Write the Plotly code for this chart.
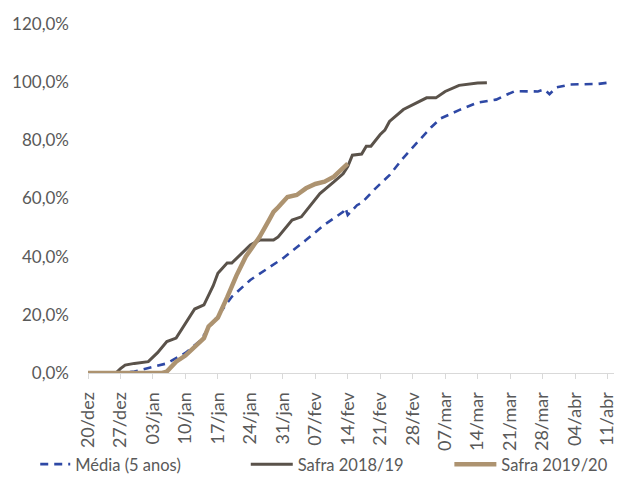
import plotly.graph_objects as go

# ---- data ----
media_dates = ["2018-12-20", "2018-12-27", "2018-12-30", "2019-01-02", "2019-01-06", "2019-01-10",
               "2019-01-13", "2019-01-16", "2019-01-20", "2019-01-24", "2019-01-27", "2019-01-31",
               "2019-02-05", "2019-02-09", "2019-02-13", "2019-02-13 12:00", "2019-02-14", "2019-02-16",
               "2019-02-17", "2019-02-20", "2019-02-23", "2019-02-26", "2019-03-01", "2019-03-04",
               "2019-03-06", "2019-03-10", "2019-03-14", "2019-03-18", "2019-03-20", "2019-03-22",
               "2019-03-27", "2019-03-28 10:00", "2019-03-29 12:00", "2019-03-31", "2019-04-03",
               "2019-04-09", "2019-04-11", "2019-04-12"]
media_vals = [0, 0, 0.5, 1.7, 3.3, 6.9,
              10.8, 17.5, 26.2, 32.0, 35.2, 39.4,
              45.7, 51.0, 55.4, 56.8, 54.3, 57.7,
              58.5, 63.5, 68.0, 74.0, 79.3, 84.5,
              87.5, 90.4, 93.0, 94.0, 95.5, 96.9,
              96.8, 97.5, 95.9, 98.2, 99.2,
              99.4, 99.8, 100.3]

s1819_dates = ["2018-12-20", "2018-12-26", "2018-12-27", "2018-12-28", "2018-12-30", "2019-01-02",
               "2019-01-04", "2019-01-06", "2019-01-08", "2019-01-10", "2019-01-12", "2019-01-14",
               "2019-01-16", "2019-01-17", "2019-01-19", "2019-01-20", "2019-01-22", "2019-01-24",
               "2019-01-26", "2019-01-29", "2019-01-30", "2019-02-02", "2019-02-04", "2019-02-06",
               "2019-02-08", "2019-02-11", "2019-02-13", "2019-02-14", "2019-02-15", "2019-02-17",
               "2019-02-18", "2019-02-19", "2019-02-21", "2019-02-22", "2019-02-23", "2019-02-26",
               "2019-03-01", "2019-03-03", "2019-03-05", "2019-03-07", "2019-03-10", "2019-03-14",
               "2019-03-16"]
s1819_vals = [0, 0, 1.5, 2.7, 3.3, 3.9,
              7.0, 10.8, 12.0, 17.0, 22.0, 23.4,
              30.0, 34.3, 37.8, 37.8, 41.0, 44.0,
              45.7, 45.7, 46.8, 52.6, 53.7, 57.5,
              61.7, 65.7, 68.5, 71.0, 74.9, 75.3,
              78.0, 78.0, 82.0, 83.5, 86.5, 90.6,
              93.0, 94.6, 94.6, 96.8, 98.9, 99.7,
              99.8]

s1920_dates = ["2018-12-20", "2019-01-05", "2019-01-06", "2019-01-08", "2019-01-10", "2019-01-12",
               "2019-01-14", "2019-01-15", "2019-01-17", "2019-01-19", "2019-01-21", "2019-01-23",
               "2019-01-26", "2019-01-28", "2019-01-29", "2019-01-30", "2019-02-01", "2019-02-03",
               "2019-02-05", "2019-02-07", "2019-02-09", "2019-02-11", "2019-02-13", "2019-02-14"]
s1920_vals = [0, 0, 0.5, 3.9, 6.0, 9.0,
              12.0, 16.0, 19.0, 26.0, 33.5, 40.0,
              46.8, 52.5, 55.4, 57.0, 60.5, 61.2,
              63.5, 65.0, 65.8, 67.5, 70.3, 72.0]

tick_dates = ["2018-12-20", "2018-12-27", "2019-01-03", "2019-01-10", "2019-01-17", "2019-01-24",
              "2019-01-31", "2019-02-07", "2019-02-14", "2019-02-21", "2019-02-28", "2019-03-07",
              "2019-03-14", "2019-03-21", "2019-03-28", "2019-04-04", "2019-04-11"]
tick_labels = ["20/dez", "27/dez", "03/jan", "10/jan", "17/jan", "24/jan", "31/jan", "07/fev",
               "14/fev", "21/fev", "28/fev", "07/mar", "14/mar", "21/mar", "28/mar", "04/abr", "11/abr"]

y_ticks = [0, 20, 40, 60, 80, 100, 120]
y_labels = ["0,0%", "20,0%", "40,0%", "60,0%", "80,0%", "100,0%", "120,0%"]

FONT = "Lato, 'Open Sans', sans-serif"
GREY = "#595959"

fig = go.Figure()
fig.add_trace(go.Scatter(x=media_dates, y=media_vals, mode="lines", name="Média (5 anos)",
                         line=dict(color="#2E48A5", width=2.6, dash="8px,6px"), legend="legend"))
fig.add_trace(go.Scatter(x=s1819_dates, y=s1819_vals, mode="lines", name="Safra 2018/19",
                         line=dict(color="#5A524A", width=3), legend="legend2"))
fig.add_trace(go.Scatter(x=s1920_dates, y=s1920_vals, mode="lines", name="Safra 2019/20",
                         line=dict(color="#AD9370", width=4.5), legend="legend3"))

leg_common = dict(orientation="h", y=-0.262, yanchor="middle", xanchor="left",
                  font=dict(size=16.5, color=GREY, family=FONT), bgcolor="rgba(0,0,0,0)")

# the page body has an 8px margin, so the figure is 8px smaller than the window
fig.update_layout(
    width=614, height=490,
    margin=dict(l=80, r=1, t=16, b=125, autoexpand=False),
    paper_bgcolor="white", plot_bgcolor="white",
    font=dict(family=FONT, color=GREY, size=17),
    showlegend=True,
    legend=dict(x=-0.099, **leg_common),
    legend2=dict(x=0.296, itemwidth=42, **leg_common),
    legend3=dict(x=0.678, itemwidth=42, **leg_common),
    xaxis=dict(type="date", range=["2018-12-20", "2019-04-13 22:00"],
               tickmode="array", tickvals=tick_dates, ticktext=tick_labels,
               tickangle=-90, tickfont=dict(size=18, color=GREY, family=FONT),
               ticklabelstandoff=6,
               showgrid=False, showline=True, linecolor="#D9D9D9", linewidth=1,
               ticks="outside", ticklen=5, tickcolor="#D9D9D9", zeroline=False,
               automargin=False),
    yaxis=dict(range=[0, 120], tickmode="array", tickvals=y_ticks, ticktext=y_labels,
               showgrid=False, zeroline=False, showline=False, ticks="",
               ticklabelstandoff=18,
               tickfont=dict(size=17, color=GREY, family=FONT), automargin=False),
)

fig.write_html("out.html")
